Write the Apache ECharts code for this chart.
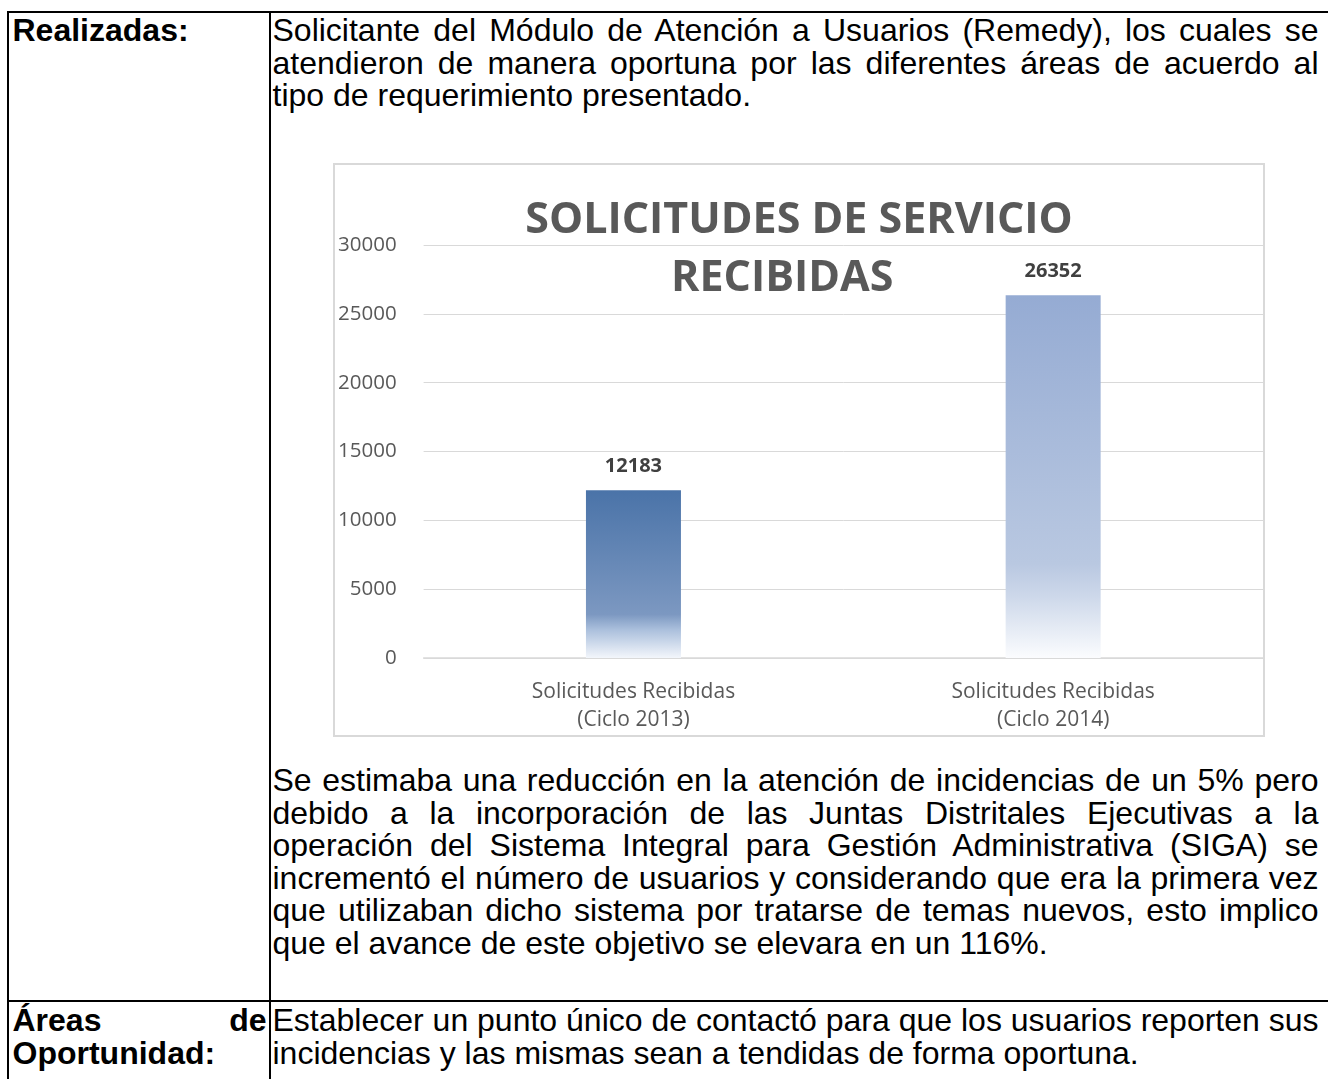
<!DOCTYPE html>
<html>
<head>
<meta charset="utf-8">
<script src="https://cdn.jsdelivr.net/npm/echarts@6/dist/echarts.min.js"></script>
<style>
  html, body { margin: 0; padding: 0; background: #fff; width: 1328px; height: 1079px; overflow: hidden; position: relative; }
  .line { position: absolute; background: #000; }
  .txt { position: absolute; font-family: Arial, "Liberation Sans", sans-serif; font-size: 32px; line-height: 32.5px; color: #000; }
  .txt div { white-space: nowrap; }
  .j { text-align: justify; text-align-last: justify; white-space: normal !important; }
  .b { font-weight: bold; }
  #chart { position: absolute; left: 333px; top: 163px; width: 928px; height: 570px; border: 2px solid #d9d9d9; }
</style>
</head>
<body>
<!-- table borders -->
<div class="line" style="left:7px; top:11px; width:1330px; height:2px;"></div>
<div class="line" style="left:7px; top:11px; width:2px; height:1080px;"></div>
<div class="line" style="left:269px; top:11px; width:2px; height:1080px;"></div>
<div class="line" style="left:7px; top:1000px; width:1330px; height:2px;"></div>

<div class="txt b" style="left:12.5px; top:14px; width:254px;">
  <div>Realizadas:</div>
</div>
<div class="txt" style="left:272.5px; top:14px; width:1046px;">
  <div class="j">Solicitante del Módulo de Atención a Usuarios (Remedy), los cuales se</div>
  <div class="j">atendieron de manera oportuna por las diferentes áreas de acuerdo al</div>
  <div>tipo de requerimiento presentado.</div>
</div>

<div id="chart"></div>

<div class="txt" style="left:272.5px; top:764px; width:1046px;">
  <div class="j">Se estimaba una reducción en la atención de incidencias de un 5% pero</div>
  <div class="j">debido a la incorporación de las Juntas Distritales Ejecutivas a la</div>
  <div class="j">operación del Sistema Integral para Gestión Administrativa (SIGA) se</div>
  <div class="j">incrementó el número de usuarios y considerando que era la primera vez</div>
  <div class="j">que utilizaban dicho sistema por tratarse de temas nuevos, esto implico</div>
  <div>que el avance de este objetivo se elevara en un 116%.</div>
</div>

<div class="txt b" style="left:12.5px; top:1004px; width:254px;">
  <div class="j">Áreas de</div>
  <div>Oportunidad:</div>
</div>
<div class="txt" style="left:272.5px; top:1004px; width:1046px;">
  <div class="j">Establecer un punto único de contactó para que los usuarios reporten sus</div>
  <div>incidencias y las mismas sean a tendidas de forma oportuna.</div>
</div>

<script>
const titleLines = ["SOLICITUDES DE SERVICIO", "RECIBIDAS\u00a0\u00a0\u00a0"];
const categories = ["Solicitudes Recibidas\n(Ciclo 2013)", "Solicitudes Recibidas\n(Ciclo 2014)"];
const values = [12183, 26352];
const yTicks = [0, 5000, 10000, 15000, 20000, 25000, 30000];

const gradients = [
  [[0, '#4a73a8'], [0.74, '#7c98c1'], [0.83, '#aabfdc'], [1, '#f3f6fb']],
  [[0, '#95abd3'], [0.74, '#b9c8e1'], [0.83, '#cdd8ea'], [1, '#fbfcfe']]
];

const chart = echarts.init(document.getElementById('chart'), null, { renderer: 'canvas' });
const font = '"Open Sans", "Noto Sans", sans-serif';

chart.setOption({
  animation: false,
  title: {
    text: titleLines.join('\n'),
    left: 'center',
    top: 22,
    textStyle: { fontFamily: font, fontSize: 43, fontWeight: 'bold', color: '#595959', lineHeight: 58 }
  },
  grid: { left: 85, right: 0, top: 80, bottom: 77, containLabel: false },
  xAxis: {
    type: 'category',
    data: categories,
    axisLine: { lineStyle: { color: '#d9d9d9', width: 1.5 } },
    axisTick: { show: false },
    axisLabel: { fontFamily: font, fontSize: 21, color: '#595959', lineHeight: 28, margin: 20 }
  },
  yAxis: {
    type: 'value',
    min: yTicks[0],
    max: yTicks[yTicks.length - 1],
    interval: yTicks[1] - yTicks[0],
    axisLine: { show: false },
    axisTick: { show: false },
    splitLine: { lineStyle: { color: '#d9d9d9', width: 1 } },
    axisLabel: { fontFamily: font, fontSize: 20.5, color: '#595959', margin: 27, formatter: v => String(v) }
  },
  series: [{
    type: 'bar',
    barWidth: 95,
    data: values.map((v, i) => ({
      value: v,
      itemStyle: {
        color: new echarts.graphic.LinearGradient(0, 0, 0, 1,
          gradients[i].map(s => ({ offset: s[0], color: s[1] })))
      }
    })),
    label: {
      show: true,
      position: 'top',
      distance: 14,
      fontFamily: font,
      fontSize: 20,
      fontWeight: 'bold',
      color: '#404040'
    }
  }]
});
</script>
</body>
</html>
